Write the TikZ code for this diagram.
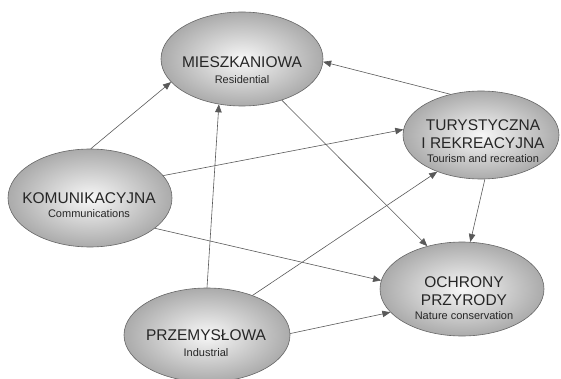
\documentclass[tikz,border=0pt]{standalone}
\usepackage{fontspec}
\setmainfont{Liberation Sans}
\usetikzlibrary{shapes.geometric,arrows.meta}
\tikzset{
	pole/.style={ellipse,draw=black!60,line width=0.6pt,inner color=gray!6,outer color=gray!66,inner sep=0pt}
	,podpis/.style={text=black!85,align=center,inner sep=0pt,font=\fontsize{15.5}{18}\selectfont}
	,strz/.style={-{Triangle[length=8pt,width=6.5pt]},draw=black!65,line width=0.6pt}
}
\newcommand{\ang}[1]{{\fontsize{11}{13}\selectfont #1}}

\begin{document}
\begin{tikzpicture}[x=1pt,y=-1pt]
\useasboundingbox (0,0) rectangle (561,379);
% pola
\node[pole,minimum width=162pt,minimum height=94pt] (miesz) at (242,59) {};
\node[pole,minimum width=156pt,minimum height=88pt] (tur) at (481,135) {};
\node[pole,minimum width=164pt,minimum height=98pt] (kom) at (90,198) {};
\node[pole,minimum width=164pt,minimum height=94pt] (ochr) at (462,289) {};
\node[pole,minimum width=166pt,minimum height=94pt] (prz) at (207,335) {};
% napisy
\node[podpis] (mieszt) at (242,70) {MIESZKANIOWA\\[-2pt]\ang{Residential}};
\node[podpis] (turt) at (483,141) {TURYSTYCZNA\\I REKREACYJNA\\[-4pt]\ang{Tourism and recreation}};
\node[podpis] (komt) at (89,205) {KOMUNIKACYJNA\\[-4pt]\ang{Communications}};
\node[podpis] (ochrt) at (464,298) {OCHRONY\\PRZYRODY\\[-4pt]\ang{Nature conservation}};
\node[podpis] (przt) at (206,343) {PRZEMYSŁOWA\\[-2pt]\ang{Industrial}};
% strzalki
\draw[strz] (kom.89) -- (miesz.198);
\draw[strz] (kom.17) -- (tur.176);
\draw[strz] (kom.-25) -- (ochr.174);
\draw[strz] (prz.90) -- (miesz.243);
\draw[strz] (prz.41) -- (tur.220);
\draw[strz] (prz.1) -- (ochr.198);
\draw[strz] (tur.127) -- (miesz.-2);
\draw[strz] (tur.-85) -- (ochr.80);
\draw[strz] (miesz.-46) -- (ochr.129);
\end{tikzpicture}
\end{document}
